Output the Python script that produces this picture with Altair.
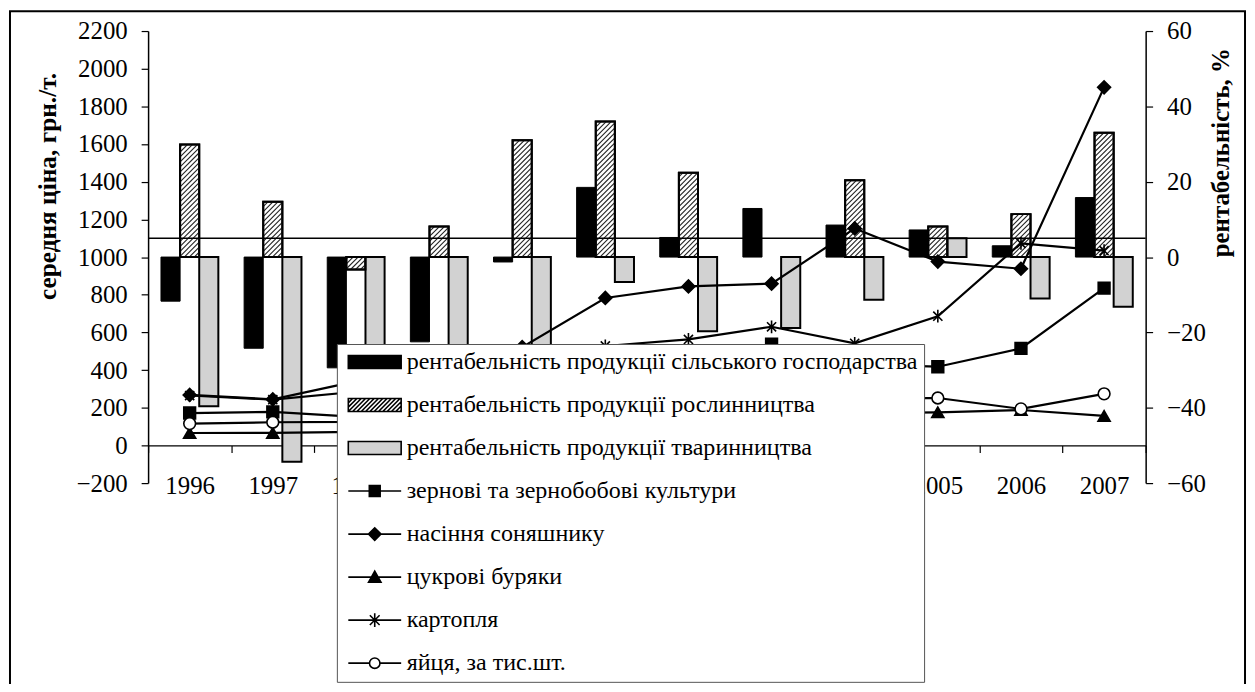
import altair as alt
import pandas as pd

# ---------------- data ----------------
years = [1996, 1997, 1998, 1999, 2000, 2001, 2002, 2003, 2004, 2005, 2006, 2007]

bar_series = [
    "рентабельність продукції сільського господарства",
    "рентабельність продукції рослинництва",
    "рентабельність продукції тваринництва",
]
agri_profit = [-11.7, -24.2, -29.4, -22.5, -1.3, 18.5, 5.2, 12.9, 8.5, 7.2, 3.0, 15.8]
crop_profit = [29.9, 14.7, -3.3, 8.1, 31.0, 36.0, 22.4, None, 20.4, 8.1, 11.4, 33.0]
livestock_profit = [-39.6, -54.3, -35.0, -33.0, -28.0, -6.6, -19.7, -18.8, -11.3, 5.0, -11.0, -13.2]

line_series = [
    "зернові та зернобобові культури",
    "насіння соняшнику",
    "цукрові буряки",
    "картопля",
    "яйця, за тис.шт.",
]
grain_price = [172, 178, 152, 255, 430, 360, 320, 538, 430, 418, 515, 835]
sunflower_price = [268, 245, 340, 480, 522, 783, 844, 859, 1152, 976, 938, 1901]
sugarbeet_price = [66, 67, 72, 85, 115, 125, 120, 140, 172, 176, 188, 157]
potato_price = [265, 243, 285, 340, 420, 528, 563, 630, 542, 686, 1073, 1034]
egg_price = [116, 123, 125, 140, 190, 200, 170, 200, 250, 252, 194, 274]

reference_line = [5]
left_ticks = list(range(-200, 2201, 200))
right_ticks = list(range(-60, 61, 20))

left_title = "середня ціна, грн./т."
right_title = "рентабельність, %"

# ---------------- layout / style ----------------
FONT = "Liberation Serif, Times New Roman, serif"
W, H = 1004, 455
BW = 0.23                      # bar width in year units
PX_YEAR = W / 12.0
PX_PCT = H / 120.0
S = PX_YEAR / PX_PCT           # 45 degree slope (% per year)
D = 5.0 / PX_PCT               # hatch vertical spacing (%)

bars_df = pd.DataFrame({
    "year": years * 3,
    "k": [0] * 12 + [1] * 12 + [2] * 12,
    "value": agri_profit + crop_profit + livestock_profit,
}).dropna()

price_lists = [grain_price, sunflower_price, sugarbeet_price, potato_price, egg_price]
lines_df = pd.DataFrame({
    "year": years * 5,
    "j": sum([[i] * 12 for i in range(5)], []),
    "value": sum(price_lists, []),
})

xs = alt.Scale(domain=[1995.5, 2007.5], nice=False, zero=False)
ls = alt.Scale(domain=[-200, 2200], nice=False, zero=False)
rs = alt.Scale(domain=[-60, 60], nice=False, zero=False)

x_vals = [1995.5 + 0.5 * i for i in range(25)]
x_axis = alt.Axis(
    values=x_vals, title=None, grid=False, offset=-(H * 200 / 2400.0),
    labelExpr="datum.value % 1 == 0 ? toString(datum.value) : ''",
    tickOpacity={"condition": {"test": "datum.value % 1 == 0", "value": 0}, "value": 1},
    labelOverlap=False, labelFlush=False, labelBound=False,
    labelFont=FONT, labelFontSize=25, labelColor="black", labelPadding=21,
    tickSize=7, tickColor="black", tickWidth=1.2, domainColor="black", domainWidth=1.2,
)
left_axis = alt.Axis(
    orient="left", values=left_ticks, grid=False, title=left_title, format="d",
    labelOverlap=False, labelFlush=False, labelBound=False,
    titleFont=FONT, titleFontSize=25.5, titleFontWeight="bold", titleColor="black",
    titleAngle=270, titleX=-101, titleY=156, titleAlign="center", titleBaseline="middle",
    labelFont=FONT, labelFontSize=25, labelColor="black", labelPadding=14,
    tickSize=7, tickColor="black", tickWidth=1.2, domainColor="black", domainWidth=1.5,
)
right_axis = alt.Axis(
    orient="right", values=right_ticks, grid=False, title=right_title, format="d",
    labelOverlap=False, labelFlush=False, labelBound=False,
    titleFont=FONT, titleFontSize=25, titleFontWeight="bold", titleColor="black",
    titleAngle=270, titleX=75, titleY=122, titleAlign="center", titleBaseline="middle",
    labelFont=FONT, labelFontSize=25, labelColor="black", labelPadding=14,
    tickSize=7, tickColor="black", tickWidth=1.2, domainColor="black", domainWidth=1.5,
)

# ---------------- bars (right axis) ----------------
bar_base = alt.Chart(bars_df).transform_calculate(
    x0=f"datum.year + (datum.k - 1.5) * {BW}",
    x1=f"datum.year + (datum.k - 0.5) * {BW}",
)
bar_styles = [("black", "black", 1), ("white", "black", 2), ("#d2d2d2", "black", 2)]
bar_layers = []
for k, (fill, stroke, sw) in enumerate(bar_styles):
    bar_layers.append(
        bar_base.transform_filter(f"datum.k == {k}").mark_rect(
            fill=fill, stroke=stroke, strokeWidth=sw
        ).encode(
            x=alt.X("x0:Q", scale=xs, axis=x_axis),
            x2="x1:Q",
            y=alt.Y("value:Q", scale=rs, axis=right_axis),
            y2=alt.datum(0),
        )
    )

hatch = (
    alt.Chart(bars_df)
    .transform_filter("datum.k == 1")
    .transform_calculate(xl=f"datum.year - 0.5 * {BW}")
    .transform_calculate(lo="min(0, datum.value)")
    .transform_calculate(hi="max(0, datum.value)")
    .transform_calculate(n=f"ceil((datum.hi - datum.lo + {S * BW}) / {D}) + 1")
    .transform_calculate(ks="sequence(0, datum.n)")
    .transform_flatten(["ks"])
    .transform_calculate(c=f"datum.lo - {S * BW} + datum.ks * {D}")
    .transform_calculate(t0=f"max(0, (datum.lo - datum.c) / {S})")
    .transform_calculate(t1=f"min({BW}, (datum.hi - datum.c) / {S})")
    .transform_filter("datum.t1 > datum.t0")
    .transform_calculate(hx0="datum.xl + datum.t0")
    .transform_calculate(hx1="datum.xl + datum.t1")
    .transform_calculate(hy0=f"datum.c + {S} * datum.t0")
    .transform_calculate(hy1=f"datum.c + {S} * datum.t1")
    .mark_rule(color="#222222", strokeWidth=1.1)
    .encode(
        x=alt.X("hx0:Q", scale=xs, axis=x_axis),
        x2="hx1:Q",
        y=alt.Y("hy0:Q", scale=rs, axis=right_axis),
        y2="hy1:Q",
    )
)
hatch_outline = bar_base.transform_filter("datum.k == 1").mark_rect(
    fill=None, stroke="black", strokeWidth=2
).encode(
    x=alt.X("x0:Q", scale=xs, axis=x_axis),
    x2="x1:Q",
    y=alt.Y("value:Q", scale=rs, axis=right_axis),
    y2=alt.datum(0),
)

ref_rule = alt.Chart(pd.DataFrame({"v": reference_line})).mark_rule(
    color="black", strokeWidth=1.5
).encode(y=alt.Y("v:Q", scale=rs, axis=right_axis))

right_group = alt.layer(*bar_layers, hatch, hatch_outline, ref_rule)

# ---------------- lines (left axis) ----------------
line_layer = alt.Chart(lines_df).mark_line(color="black", strokeWidth=2.2).encode(
    x=alt.X("year:Q", scale=xs, axis=x_axis),
    y=alt.Y("value:Q", scale=ls, axis=left_axis),
    detail="j:N",
    order="year:Q",
)
STAR = "M-0.75,-0.75L0.75,0.75M-0.75,0.75L0.75,-0.75M0,-1.05V1.05"
marker_styles = [
    ("square", "black", 140),
    ("diamond", "black", 170),
    ("triangle-up", "black", 150),
    (STAR, "black", 150),
    ("circle", "white", 140),
]
marker_layers = []
for j, (shape, fill, size) in enumerate(marker_styles):
    marker_layers.append(
        alt.Chart(lines_df).transform_filter(f"datum.j == {j}").mark_point(
            shape=shape, filled=True, fill=fill, stroke="black", strokeWidth=1.6,
            size=size, opacity=1,
        ).encode(
            x=alt.X("year:Q", scale=xs, axis=x_axis),
            y=alt.Y("value:Q", scale=ls, axis=left_axis),
        )
    )

# ---------------- legend ----------------
def hatch_path(h=0.93, w=3.8, step=0.62):
    parts = [f"M{-w},{-h}H{w}V{h}H{-w}Z"]
    span = 2 * h
    x0 = -w - span
    while x0 < w:
        tmin = max(0.0, (-w - x0) / span)
        tmax = min(1.0, (w - x0) / span)
        if tmax > tmin:
            xa, ya = x0 + span * tmin, h - span * tmin
            xb, yb = x0 + span * tmax, h - span * tmax
            parts.append(f"M{xa:.3f},{ya:.3f}L{xb:.3f},{yb:.3f}")
        x0 += step
    return "".join(parts)

RECT = "M-3.8,-0.93H3.8V0.93H-3.8Z"
legend_names = bar_series + line_series
legend_paths = [
    RECT,
    hatch_path(),
    RECT,
    "M-3.8,0H3.8M-0.78,-0.78H0.78V0.78H-0.78Z",
    "M-3.8,0H3.8M-0.9,0L0,-0.9L0.9,0L0,0.9Z",
    "M-3.8,0H3.8M-0.9,0.75L0,-0.85L0.9,0.75Z",
    "M-3.8,0H3.8M-0.7,-0.7L0.7,0.7M-0.7,0.7L0.7,-0.7M0,-1V1",
    "M-3.8,0H-0.75M0.75,0H3.8M-0.75,0A0.75,0.75,0,1,0,0.75,0A0.75,0.75,0,1,0,-0.75,0Z",
]
legend_fills = ["black", "white", "#d2d2d2", "black", "black", "black", "black", "white"]
legend_strokes = ["black"] * 8

leg = alt.Legend(
    title=None, orient="none", legendX=190, legendY=315,
    fillColor="white", strokeColor="#555555", padding=6,
    labelFont=FONT, labelFontSize=24.2, labelColor="black", labelLimit=1000,
    labelOffset=20, symbolOffset=20, symbolSize=196, symbolStrokeWidth=1.6,
    symbolStrokeColor="black", symbolOpacity=1, rowPadding=18.3,
)
legend_layer = alt.Chart(pd.DataFrame({"name": legend_names})).mark_point(opacity=0).encode(
    x=alt.XDatum(2000, scale=xs, axis=x_axis),
    y=alt.YDatum(1000, scale=ls, axis=left_axis),
    shape=alt.Shape("name:N", scale=alt.Scale(domain=legend_names, range=legend_paths), legend=leg),
    fill=alt.Fill("name:N", scale=alt.Scale(domain=legend_names, range=legend_fills), legend=leg),
    stroke=alt.Stroke("name:N", scale=alt.Scale(domain=legend_names, range=legend_strokes), legend=leg),
)

border = alt.Chart(pd.DataFrame({"b": [0]})).mark_rect(
    fill=None, stroke="black", strokeWidth=2
).encode(x=alt.value(-139), x2=alt.value(1104), y=alt.value(-20), y2=alt.value(700))

left_group = alt.layer(line_layer, *marker_layers, legend_layer, border)

chart = (
    alt.layer(right_group, left_group)
    .resolve_scale(y="independent")
    .properties(
        width=W, height=H,
        padding={"left": 141, "top": 21, "right": 102, "bottom": 200},
        autosize=alt.AutoSizeParams(type="none"),
        background="white",
    )
    .configure_view(stroke=None)
    .configure_axis(labelOverlap=False)
)

chart.save("out.html", embed_options={"renderer": "svg", "actions": False})
